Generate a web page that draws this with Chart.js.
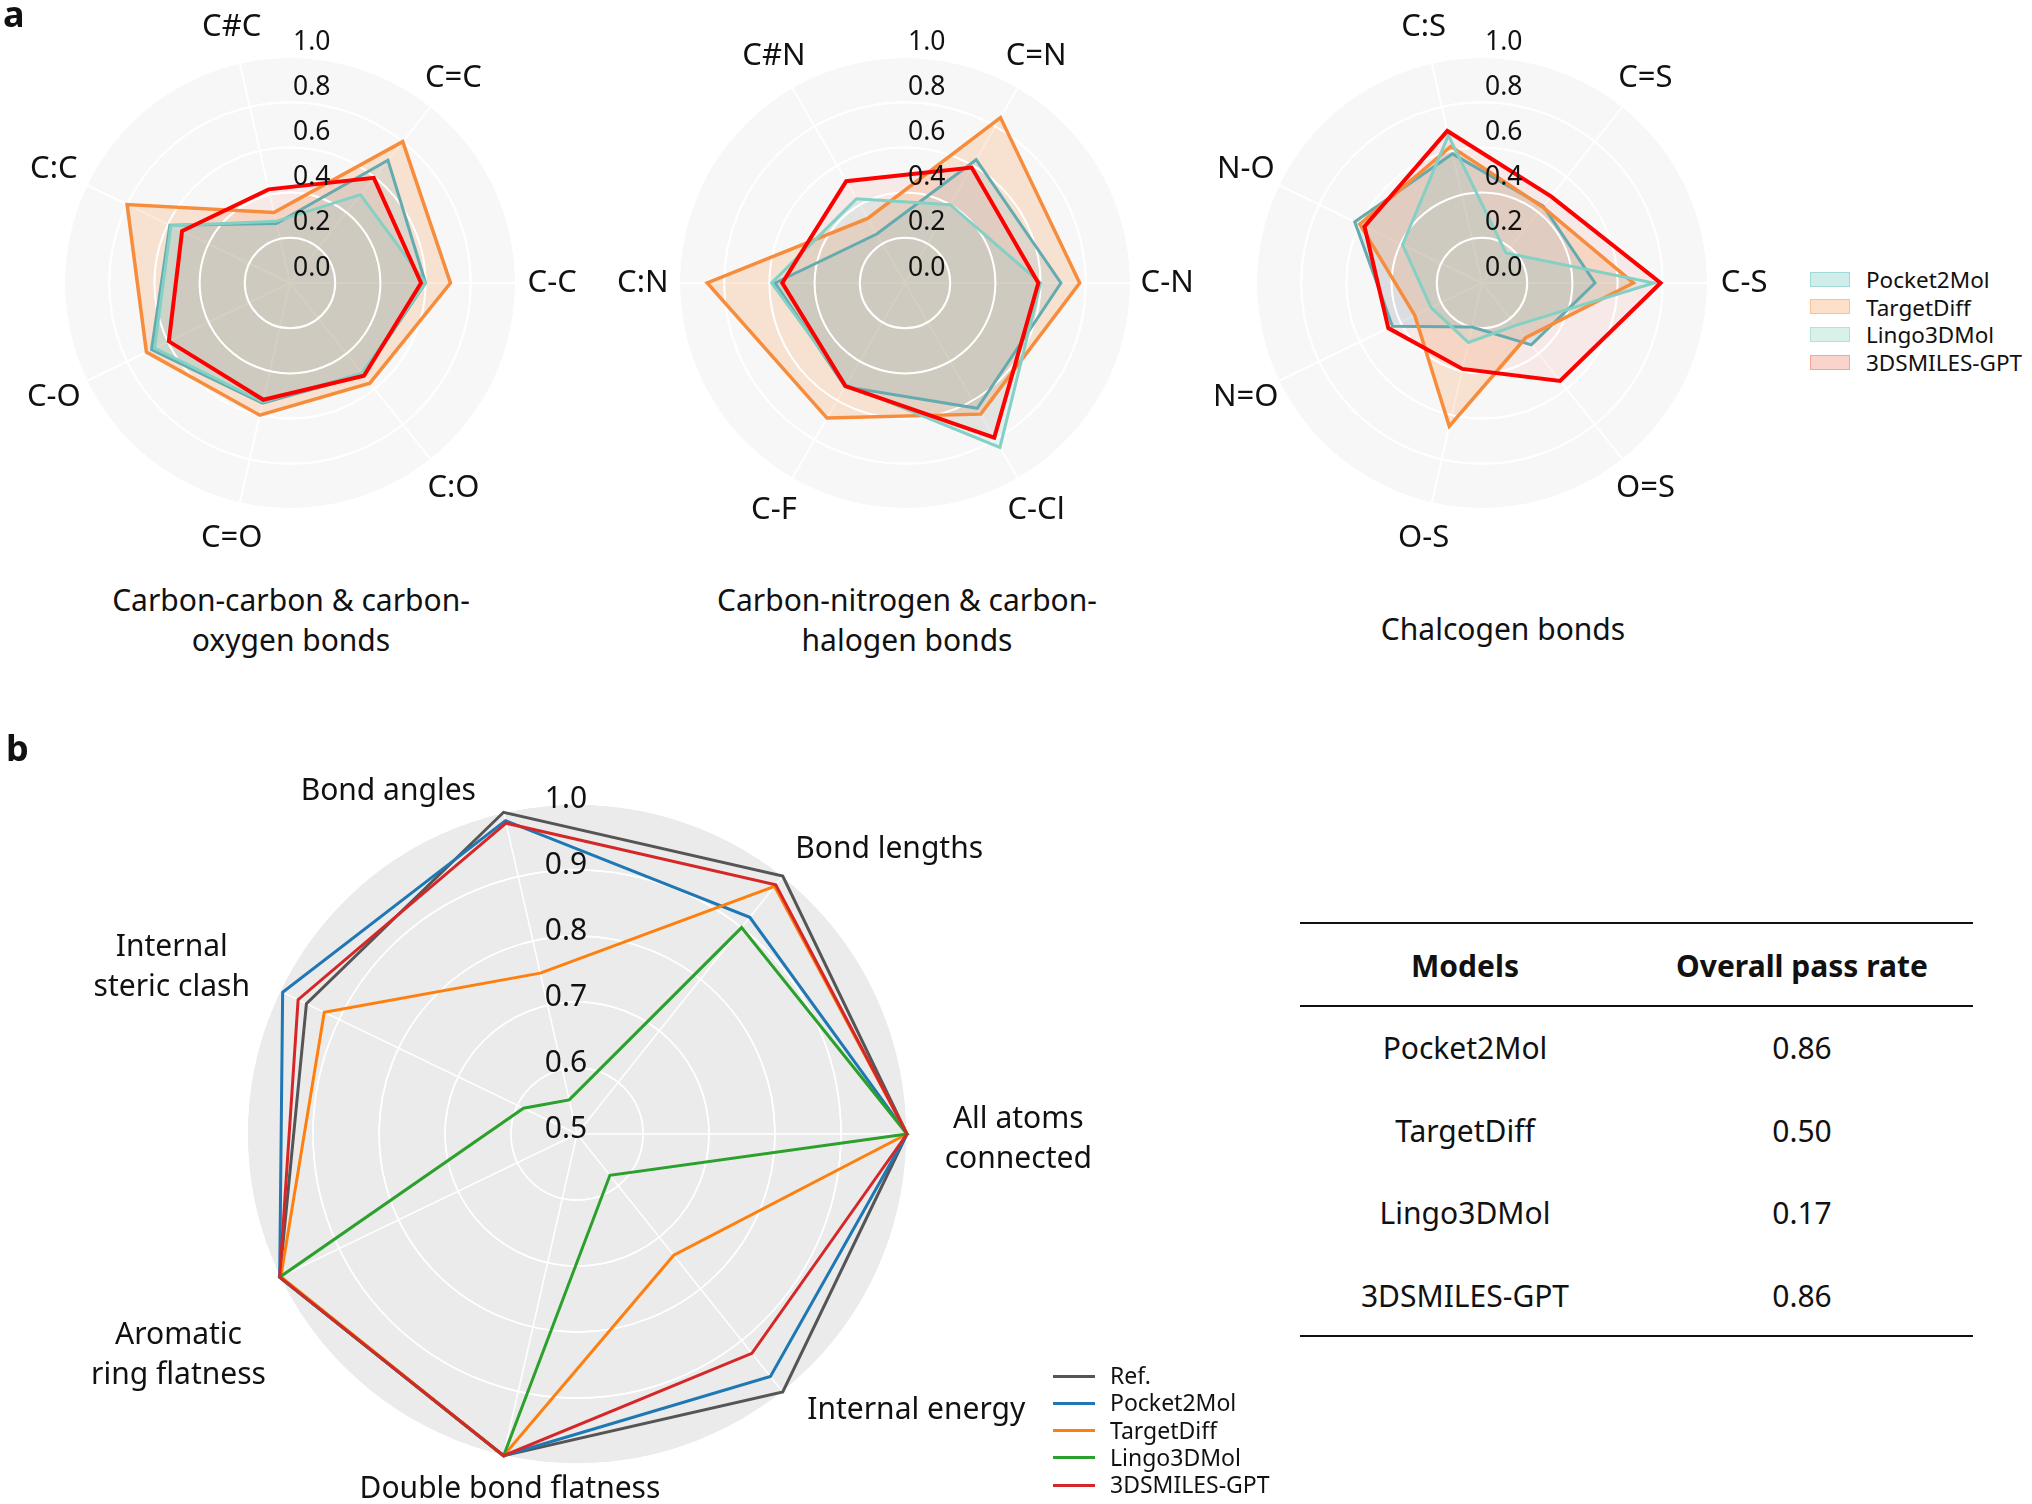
<!DOCTYPE html>
<html>
<head>
<meta charset="utf-8">
<title>Bond geometry radar charts</title>
<script src="https://cdn.jsdelivr.net/npm/chart.js@4.4.1/dist/chart.umd.min.js"></script>
<style>
  body { margin: 0; background: #fff; }
  #page { position: relative; width: 2032px; height: 1504px; overflow: hidden; font-family: 'Noto Sans', sans-serif; color: #111; }
  canvas { position: absolute; }
  .t { position: absolute; white-space: nowrap; line-height: 1.2; }
</style>
</head>
<body>
<div id="page">
  <canvas id="radarCC" width="600" height="560" style="left:0px;top:0px"></canvas>
  <canvas id="radarCN" width="600" height="560" style="left:615px;top:0px"></canvas>
  <canvas id="radarCh" width="600" height="560" style="left:1192px;top:0px"></canvas>
  <canvas id="radarChecks" width="1150" height="764" style="left:0px;top:740px"></canvas>
</div>
<script>
// panel a: bond type frequencies, categories counterclockwise from the right
const bondsCC = ['C-C', 'C=C', 'C#C', 'C:C', 'C-O', 'C=O', 'C:O'];
const bondsCN = ['C-N', 'C=N', 'C#N', 'C:N', 'C-F', 'C-Cl'];
const bondsCh = ['C-S', 'C=S', 'C:S', 'N-O', 'N=O', 'O-S', 'O=S'];
const models = ['Pocket2Mol', 'TargetDiff', 'Lingo3DMol', '3DSMILES-GPT'];

const ccPocket2Mol = [0.60, 0.695, 0.27, 0.59, 0.68, 0.545, 0.52];
const ccTargetDiff = [0.71, 0.80, 0.32, 0.80, 0.705, 0.60, 0.567];
const ccLingo3DMol = [0.60, 0.50, 0.28, 0.585, 0.665, 0.54, 0.51];
const cc3DSMILESGPT = [0.58, 0.595, 0.425, 0.53, 0.595, 0.53, 0.525];

const cnPocket2Mol = [0.69, 0.63, 0.25, 0.575, 0.53, 0.64];
const cnTargetDiff = [0.773, 0.845, 0.33, 0.875, 0.69, 0.67];
const cnLingo3DMol = [0.60, 0.40, 0.43, 0.59, 0.52, 0.84];
const cn3DSMILESGPT = [0.59, 0.59, 0.52, 0.543, 0.527, 0.79];

const chPocket2Mol = [0.50, 0.435, 0.586, 0.625, 0.44, 0.20, 0.35];
const chTargetDiff = [0.67, 0.43, 0.62, 0.60, 0.33, 0.65, 0.31];
const chLingo3DMol = [0.76, 0.17, 0.67, 0.39, 0.25, 0.27, 0.24];
const ch3DSMILESGPT = [0.79, 0.49, 0.69, 0.577, 0.46, 0.39, 0.554];

// panel b: validity checks
const checks = [['All atoms', 'connected'], 'Bond lengths', 'Bond angles', ['Internal', 'steric clash'],
  ['Aromatic', 'ring flatness'], 'Double bond flatness', 'Internal energy'];
const checkModels = ['Ref.', 'Pocket2Mol', 'TargetDiff', 'Lingo3DMol', '3DSMILES-GPT'];
const bRef = [1.0, 1.0, 1.0, 0.955, 1.0, 1.0, 1.0];
const bPocket2Mol = [1.0, 0.92, 0.987, 0.995, 1.0, 1.0, 0.97];
const bTargetDiff = [1.0, 0.98, 0.75, 0.925, 0.998, 1.0, 0.735];
const bLingo3DMol = [1.0, 0.90, 0.553, 0.59, 1.0, 1.0, 0.58];
const b3DSMILESGPT = [1.0, 0.983, 0.983, 0.969, 1.0, 1.0, 0.925];

// table
const tableModels = ['Pocket2Mol', 'TargetDiff', 'Lingo3DMol', '3DSMILES-GPT'];
const passRates = [0.86, 0.50, 0.17, 0.86];

// styles
const lineColors = ['#64abb0', '#f78d3c', '#84d0c4', '#ff0000'];
const fillRGB = [[70, 170, 200], [250, 140, 60], [110, 200, 200], [240, 80, 70]];
const fillAlpha = [0.17, 0.2, 0.15, 0.08];
const legendRGB = [[100, 195, 190], [250, 150, 80], [130, 210, 190], [240, 110, 90]];
const lineWidths = [3, 3.5, 3, 4];
const checkColors = ['#555555', '#1f77b4', '#ff7f0e', '#2ca02c', '#d62728'];

const rgba = (c, a) => `rgba(${c[0]},${c[1]},${c[2]},${a})`;
// Chart.js goes clockwise, the figure goes counterclockwise
const ccw = a => [a[0], ...a.slice(1).reverse()];

const radarText = {
  id: 'radarText',
  // white rings again, above the fills but under the outlines
  beforeDatasetsDraw(chart, args, o) {
    const s = chart.scales.r;
    const ctx = chart.ctx;
    ctx.save();
    ctx.strokeStyle = '#ffffff';
    ctx.lineWidth = o.gridWidth;
    s.ticks.forEach((t, i) => {
      if (i === 0) return;
      ctx.beginPath();
      ctx.arc(s.xCenter, s.yCenter, s.getDistanceFromCenterForValue(t.value), 0, Math.PI * 2);
      ctx.stroke();
    });
    ctx.restore();
  },
  afterDatasetsDraw(chart, args, o) {
    const s = chart.scales.r;
    const ctx = chart.ctx;
    ctx.save();
    ctx.fillStyle = '#111';
    ctx.textBaseline = 'middle';
    ctx.font = o.tickFont;
    ctx.textAlign = o.tickAlign;
    s.ticks.forEach(t => {
      const d = s.getDistanceFromCenterForValue(t.value);
      ctx.fillText(t.value.toFixed(1), s.xCenter + o.tickDx, s.yCenter - d - o.tickDy);
    });
    ctx.font = o.labelFont;
    ctx.textAlign = 'center';
    chart.data.labels.forEach((lab, i) => {
      const p = s.getPointPositionForValue(i, o.labelValue);
      const lines = [].concat(lab);
      const align = o.align ? o.align[i] : 'center';
      const nudge = o.nudge ? o.nudge[i] : [0, 0];
      const w = Math.max(...lines.map(l => ctx.measureText(l).width));
      let x = p.x + nudge[0];
      if (align === 'left') x += w / 2;
      if (align === 'right') x -= w / 2;
      const y = p.y + nudge[1];
      lines.forEach((l, k) => ctx.fillText(l, x, y + (k - (lines.length - 1) / 2) * o.lineHeight));
    });
    ctx.restore();
  }
};

function bondRadar(id, labels, series) {
  new Chart(document.getElementById(id), {
    type: 'radar',
    data: {
      labels: ccw(labels),
      datasets: models.map((m, j) => ({
        label: m,
        data: ccw(series[j]),
        borderColor: lineColors[j],
        backgroundColor: rgba(fillRGB[j], fillAlpha[j]),
        borderWidth: lineWidths[j],
        fill: true,
        order: models.length - j,
        pointRadius: 0
      }))
    },
    options: {
      responsive: false,
      animation: false,
      events: [],
      layout: { padding: { left: 64, top: 57, right: 84, bottom: 51 } },
      elements: { line: { tension: 0 } },
      scales: {
        r: {
          min: 0, max: 1, startAngle: 90,
          backgroundColor: '#f7f7f7',
          ticks: { display: false, stepSize: 0.2 },
          pointLabels: { display: false },
          grid: { circular: true, color: '#ffffff', lineWidth: 2 },
          angleLines: { color: '#ffffff', lineWidth: 2 }
        }
      },
      plugins: {
        legend: { display: false },
        tooltip: { enabled: false },
        filler: { drawTime: 'beforeDatasetsDraw' },
        radarText: {
          gridWidth: 2,
          tickFont: '26.5px "Noto Sans"', tickAlign: 'left', tickDx: 3, tickDy: 15,
          labelFont: '31px "Noto Sans"', labelValue: 1.16, lineHeight: 36
        }
      }
    },
    plugins: [radarText]
  });
}

bondRadar('radarCC', bondsCC, [ccPocket2Mol, ccTargetDiff, ccLingo3DMol, cc3DSMILESGPT]);
bondRadar('radarCN', bondsCN, [cnPocket2Mol, cnTargetDiff, cnLingo3DMol, cn3DSMILESGPT]);
bondRadar('radarCh', bondsCh, [chPocket2Mol, chTargetDiff, chLingo3DMol, ch3DSMILESGPT]);

const checkSeries = [bRef, bPocket2Mol, bTargetDiff, bLingo3DMol, b3DSMILESGPT];
new Chart(document.getElementById('radarChecks'), {
  type: 'radar',
  data: {
    labels: ccw(checks),
    datasets: checkModels.map((m, j) => ({
      label: m,
      data: ccw(checkSeries[j]),
      borderColor: checkColors[j],
      backgroundColor: 'transparent',
      borderWidth: 3,
      fill: false,
      order: checkModels.length - j,
      pointRadius: 0
    }))
  },
  options: {
    responsive: false,
    animation: false,
    events: [],
    layout: { padding: { left: 247, top: 64, right: 243, bottom: 40 } },
    elements: { line: { tension: 0 } },
    scales: {
      r: {
        min: 0.5, max: 1, startAngle: 90,
        backgroundColor: '#ebebeb',
        ticks: { display: false, stepSize: 0.1 },
        pointLabels: { display: false },
        grid: { circular: true, color: '#ffffff', lineWidth: 1.5 },
        angleLines: { color: '#ffffff', lineWidth: 1.5 }
      }
    },
    plugins: {
      legend: { display: false },
      tooltip: { enabled: false },
      radarText: {
        gridWidth: 1.5,
        tickFont: '30px "Noto Sans"', tickAlign: 'center', tickDx: -11, tickDy: 5,
        labelFont: '30px "Noto Sans"', labelValue: 1.045, lineHeight: 40,
        align: ccw(['left', 'left', 'right', 'right', 'right', 'center', 'left']),
        nudge: ccw([[8, 5], [-6, -3], [-21, 8], [-3, -10], [13, 65], [13, 5], [6, -5]])
      }
    }
  },
  plugins: [radarText]
});

// plain text, legends and the table
const page = document.getElementById('page');
function put(text, x, y, style, anchor) {
  const d = document.createElement('div');
  d.className = 't';
  d.textContent = text;
  Object.assign(d.style, style || {});
  d.style.left = x + 'px';
  d.style.top = y + 'px';
  d.style.transform = anchor === 'left' ? 'translate(0,-50%)' : 'translate(-50%,-50%)';
  page.appendChild(d);
  return d;
}
function box(x, y, w, h, style) {
  const d = document.createElement('div');
  d.style.position = 'absolute';
  d.style.left = x + 'px'; d.style.top = y + 'px';
  d.style.width = w + 'px'; d.style.height = h + 'px';
  Object.assign(d.style, style);
  page.appendChild(d);
}

put('a', 3, 14, { fontSize: '36px', fontWeight: 'bold' }, 'left');
put('b', 6, 748, { fontSize: '36px', fontWeight: 'bold' }, 'left');

const titleFont = { fontSize: '30px' };
put('Carbon-carbon & carbon-', 291, 600, titleFont);
put('oxygen bonds', 291, 640, titleFont);
put('Carbon-nitrogen & carbon-', 907, 600, titleFont);
put('halogen bonds', 907, 640, titleFont);
put('Chalcogen bonds', 1503, 629, titleFont);

models.forEach((m, j) => {
  const y = 279 + j * 27.7;
  box(1810, y - 7.5, 40, 15, { background: rgba(legendRGB[j], 0.3), boxSizing: 'border-box', border: '1.5px solid ' + rgba(legendRGB[j], 0.45) });
  put(m, 1866, y, { fontSize: '22.5px' }, 'left');
});

checkModels.forEach((m, j) => {
  const y = 1376 + j * 27.3;
  box(1053, y - 1.5, 42, 3, { background: checkColors[j] });
  put(m, 1110, y, { fontSize: '23px' }, 'left');
});

box(1300, 922, 673, 2, { background: '#111' });
box(1300, 1005, 673, 2, { background: '#111' });
box(1300, 1335, 673, 2, { background: '#111' });
put('Models', 1465, 966, { fontSize: '30px', fontWeight: 'bold' });
put('Overall pass rate', 1802, 966, { fontSize: '30px', fontWeight: 'bold' });
tableModels.forEach((m, i) => {
  const y = 1048 + i * 82.6;
  put(m, 1465, y, { fontSize: '30px' });
  put(passRates[i].toFixed(2), 1802, y, { fontSize: '30px' });
});
</script>
</body>
</html>
